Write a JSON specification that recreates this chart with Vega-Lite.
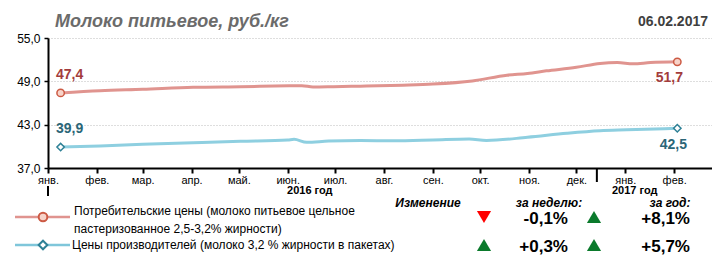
{
  "$schema": "https://vega.github.io/schema/vega-lite/v6.json",
  "width": 664,
  "height": 130,
  "autosize": {"type": "none"},
  "padding": {"left": 48, "top": 38, "right": 0, "bottom": 88},
  "background": "white",
  "config": {
    "view": {"stroke": null},
    "font": "Liberation Sans",
    "locale": {
      "number": {"decimal": ",", "thousands": " ", "grouping": [3], "currency": ["", " руб."], "minus": "-"},
      "time": {
        "dateTime": "%A, %e %B %Y г. %X",
        "date": "%d.%m.%Y",
        "time": "%H:%M:%S",
        "periods": ["AM", "PM"],
        "days": ["воскресенье", "понедельник", "вторник", "среда", "четверг", "пятница", "суббота"],
        "shortDays": ["вс", "пн", "вт", "ср", "чт", "пт", "сб"],
        "months": ["январь", "февраль", "март", "апрель", "май", "июнь", "июль", "август", "сентябрь", "октябрь", "ноябрь", "декабрь"],
        "shortMonths": ["янв.", "фев.", "мар.", "апр.", "май.", "июн.", "июл.", "авг.", "сен.", "окт.", "ноя.", "дек."]
      }
    }
  },
  "datasets": {
    "prices": [
      {"s": "s1", "date": "2016-01-09", "v": 47.4},
      {"s": "s1", "date": "2016-02-03", "v": 47.7},
      {"s": "s1", "date": "2016-03-01", "v": 47.9},
      {"s": "s1", "date": "2016-04-02", "v": 48.17},
      {"s": "s1", "date": "2016-05-02", "v": 48.26},
      {"s": "s1", "date": "2016-06-02", "v": 48.38},
      {"s": "s1", "date": "2016-06-10", "v": 48.4},
      {"s": "s1", "date": "2016-06-17", "v": 48.22},
      {"s": "s1", "date": "2016-06-30", "v": 48.26},
      {"s": "s1", "date": "2016-07-17", "v": 48.33},
      {"s": "s1", "date": "2016-08-13", "v": 48.47},
      {"s": "s1", "date": "2016-09-01", "v": 48.62},
      {"s": "s1", "date": "2016-09-26", "v": 49.05},
      {"s": "s1", "date": "2016-10-18", "v": 49.85},
      {"s": "s1", "date": "2016-10-31", "v": 50.1},
      {"s": "s1", "date": "2016-11-12", "v": 50.45},
      {"s": "s1", "date": "2016-12-01", "v": 50.94},
      {"s": "s1", "date": "2016-12-16", "v": 51.48},
      {"s": "s1", "date": "2016-12-27", "v": 51.6},
      {"s": "s1", "date": "2017-01-06", "v": 51.42},
      {"s": "s1", "date": "2017-01-17", "v": 51.6},
      {"s": "s1", "date": "2017-02-03", "v": 51.7},
      {"s": "s2", "date": "2016-01-09", "v": 39.9},
      {"s": "s2", "date": "2016-02-03", "v": 40.05},
      {"s": "s2", "date": "2016-03-01", "v": 40.28},
      {"s": "s2", "date": "2016-04-02", "v": 40.5},
      {"s": "s2", "date": "2016-05-02", "v": 40.7},
      {"s": "s2", "date": "2016-06-01", "v": 40.88},
      {"s": "s2", "date": "2016-06-05", "v": 40.97},
      {"s": "s2", "date": "2016-06-13", "v": 40.55},
      {"s": "s2", "date": "2016-06-27", "v": 40.74},
      {"s": "s2", "date": "2016-07-17", "v": 40.82},
      {"s": "s2", "date": "2016-08-07", "v": 40.76},
      {"s": "s2", "date": "2016-09-01", "v": 40.88},
      {"s": "s2", "date": "2016-09-24", "v": 41.02},
      {"s": "s2", "date": "2016-10-05", "v": 40.82},
      {"s": "s2", "date": "2016-10-31", "v": 41.25},
      {"s": "s2", "date": "2016-11-25", "v": 41.8},
      {"s": "s2", "date": "2016-12-16", "v": 42.15},
      {"s": "s2", "date": "2017-01-02", "v": 42.28},
      {"s": "s2", "date": "2017-02-03", "v": 42.5}
    ],
    "table": [
      {"s": "s1", "label": "Потребительские цены (молоко питьевое цельное\nпастеризованное 2,5-3,2% жирности)", "w": -0.001, "yr": 0.081},
      {"s": "s2", "label": "Цены производителей (молоко 3,2 % жирности в пакетах)", "w": 0.003, "yr": 0.057}
    ]
  },
  "layer": [
    {
      "data": {"name": "prices"},
      "layer": [
        {
          "mark": {"type": "line", "interpolate": "monotone", "strokeWidth": 3},
          "encoding": {
            "x": {
              "field": "date", "type": "temporal",
              "scale": {"type": "utc", "domain": [{"year": 2016, "month": 1, "date": 1, "utc": true}, {"year": 2017, "month": 2, "date": 25, "utc": true}], "nice": false},
              "axis": {"title": null, "format": "%b", "tickCount": {"interval": "month", "step": 1}, "labelFlush": false, "labelOverlap": false, "domainColor": "#000", "domainWidth": 2, "tickColor": "#000", "tickWidth": 2, "tickSize": 5, "labelFontSize": 11, "labelColor": "#000", "labelPadding": 1, "grid": false}
            },
            "y": {
              "field": "v", "type": "quantitative",
              "scale": {"domain": [37, 55], "nice": false, "zero": false},
              "axis": {"title": null, "values": [37, 43, 49, 55], "format": ".1f", "domainColor": "#000", "domainWidth": 2, "tickColor": "#000", "tickWidth": 1.5, "tickSize": 4, "labelFontSize": 12, "labelColor": "#000", "labelPadding": 4, "grid": true, "gridColor": "#bdbdbd", "gridDash": [1, 2], "gridWidth": 1}
            },
            "color": {"field": "s", "type": "nominal", "scale": {"domain": ["s1", "s2"], "range": ["#e0948f", "#8ecfe0"]}, "legend": null}
          }
        },
        {
          "transform": [{"filter": "datum.s == 's1' && (time(datum.date) == time(toDate('2016-01-09')) || time(datum.date) == time(toDate('2017-02-03')))"}],
          "mark": {"type": "point", "shape": "circle", "filled": true, "fill": "#f7d3c9", "stroke": "#cc5a44", "strokeWidth": 1.5, "size": 55, "opacity": 1},
          "encoding": {"x": {"field": "date", "type": "temporal"}, "y": {"field": "v", "type": "quantitative"}}
        },
        {
          "transform": [{"filter": "datum.s == 's2' && (time(datum.date) == time(toDate('2016-01-09')) || time(datum.date) == time(toDate('2017-02-03')))"}],
          "mark": {"type": "point", "shape": "diamond", "filled": true, "fill": "#ffffff", "stroke": "#2e8196", "strokeWidth": 1.5, "size": 55, "opacity": 1},
          "encoding": {"x": {"field": "date", "type": "temporal"}, "y": {"field": "v", "type": "quantitative"}}
        },
        {
          "transform": [{"filter": "time(datum.date) == time(toDate('2016-01-09'))"}],
          "mark": {"type": "text", "dx": 9, "dy": -18, "align": "center", "baseline": "middle", "fontSize": 14, "fontWeight": "bold"},
          "encoding": {
            "x": {"field": "date", "type": "temporal"}, "y": {"field": "v", "type": "quantitative"},
            "text": {"field": "v", "type": "quantitative", "format": ".1f"},
            "color": {"condition": {"test": "datum.s == 's1'", "value": "#a33c3c"}, "value": "#2b6677"}
          }
        },
        {
          "transform": [{"filter": "time(datum.date) == time(toDate('2017-02-03')) && datum.s == 's1'"}],
          "mark": {"type": "text", "dx": -8, "dy": 16, "align": "center", "baseline": "middle", "fontSize": 14, "fontWeight": "bold", "color": "#a33c3c"},
          "encoding": {
            "x": {"field": "date", "type": "temporal"}, "y": {"field": "v", "type": "quantitative"},
            "text": {"field": "v", "type": "quantitative", "format": ".1f"}
          }
        },
        {
          "transform": [{"filter": "time(datum.date) == time(toDate('2017-02-03')) && datum.s == 's2'"}],
          "mark": {"type": "text", "dx": -4, "dy": 17, "align": "center", "baseline": "middle", "fontSize": 14, "fontWeight": "bold", "color": "#2b6677"},
          "encoding": {
            "x": {"field": "date", "type": "temporal"}, "y": {"field": "v", "type": "quantitative"},
            "text": {"field": "v", "type": "quantitative", "format": ".1f"}
          }
        },
        {
          "data": {"values": [{"t": "Молоко питьевое, руб./кг"}]},
          "mark": {"type": "text", "align": "left", "baseline": "alphabetic", "dx": 7, "dy": -11, "fontSize": 18, "fontWeight": "bold", "fontStyle": "italic", "color": "#6b6b6b"},
          "encoding": {"x": {"value": 0}, "y": {"value": 0}, "text": {"field": "t"}}
        },
        {
          "data": {"values": [{"t": "06.02.2017"}]},
          "mark": {"type": "text", "align": "right", "baseline": "middle", "dx": -4, "dy": -16, "fontSize": 14, "fontWeight": "bold", "color": "#3f3f3f"},
          "encoding": {"x": {"value": "width"}, "y": {"value": 0}, "text": {"field": "t"}}
        },
        {
          "data": {"values": [{"t": "2016 год"}]},
          "mark": {"type": "text", "align": "center", "baseline": "middle", "dy": 23, "fontSize": 11, "fontWeight": "bold", "color": "#000"},
          "encoding": {"x": {"datum": {"year": 2016, "month": 6, "date": 15, "utc": true}, "type": "temporal"}, "y": {"value": "height"}, "text": {"field": "t"}}
        },
        {
          "data": {"values": [{"t": "2017 год"}]},
          "mark": {"type": "text", "align": "center", "baseline": "middle", "dy": 23, "fontSize": 11, "fontWeight": "bold", "color": "#000"},
          "encoding": {"x": {"datum": {"year": 2017, "month": 1, "date": 7, "utc": true}, "type": "temporal"}, "y": {"value": "height"}, "text": {"field": "t"}}
        },
        {
          "data": {"values": [{"t": "a"}]},
          "mark": {"type": "rule", "color": "#000", "strokeWidth": 2, "yOffset": 18, "y2Offset": 28},
          "encoding": {"x": {"datum": {"year": 2016, "month": 1, "date": 1, "utc": true}, "type": "temporal"}, "y": {"value": "height"}, "y2": {"value": "height"}}
        },
        {
          "data": {"values": [{"t": "b"}]},
          "mark": {"type": "rule", "color": "#000", "strokeWidth": 2, "yOffset": 0, "y2Offset": 14},
          "encoding": {"x": {"datum": {"year": 2016, "month": 12, "date": 14, "utc": true}, "type": "temporal"}, "y": {"value": "height"}, "y2": {"value": "height"}}
        }
      ]
    },
    {
      "layer": [
        {
          "data": {"name": "table"},
          "mark": {"type": "rule", "strokeWidth": 2.5},
          "encoding": {
            "x": {"datum": 15, "type": "quantitative", "scale": {"domain": [0, 712], "range": [-48, 664], "nice": false, "zero": false}, "axis": null},
            "x2": {"datum": 70},
            "y": {"field": "s", "type": "nominal", "scale": {"type": "point", "domain": ["s1", "s2"], "range": [179, 207], "padding": 0}, "axis": null},
            "color": {"field": "s", "type": "nominal", "scale": {"domain": ["s1", "s2"], "range": ["#e0948f", "#7fc6da"]}, "legend": null}
          }
        },
        {
          "data": {"name": "table"},
          "mark": {"type": "point", "filled": true, "size": 75, "strokeWidth": 2, "opacity": 1},
          "encoding": {
            "x": {"datum": 43, "type": "quantitative"},
            "y": {"field": "s", "type": "nominal"},
            "shape": {"field": "s", "type": "nominal", "scale": {"domain": ["s1", "s2"], "range": ["circle", "diamond"]}, "legend": null},
            "fill": {"field": "s", "type": "nominal", "scale": {"domain": ["s1", "s2"], "range": ["#f7d3c9", "#ffffff"]}, "legend": null},
            "stroke": {"field": "s", "type": "nominal", "scale": {"domain": ["s1", "s2"], "range": ["#cc5a44", "#2e8196"]}, "legend": null}
          }
        },
        {
          "data": {"name": "table"},
          "transform": [{"filter": "datum.s == 's1'"}],
          "mark": {"type": "text", "align": "left", "baseline": "middle", "lineBreak": "\n", "lineHeight": 18, "fontSize": 12, "dy": -6, "color": "#000"},
          "encoding": {
            "x": {"datum": 74, "type": "quantitative"},
            "y": {"field": "s", "type": "nominal"},
            "text": {"field": "label"}
          }
        },
        {
          "data": {"name": "table"},
          "transform": [{"filter": "datum.s == 's2'"}],
          "mark": {"type": "text", "align": "left", "baseline": "middle", "fontSize": 12, "dy": 0, "color": "#000"},
          "encoding": {
            "x": {"datum": 72, "type": "quantitative"},
            "y": {"field": "s", "type": "nominal"},
            "text": {"field": "label"}
          }
        },
        {
          "data": {"name": "table"},
          "mark": {"type": "point", "filled": true, "size": 200, "opacity": 1, "strokeWidth": 0},
          "encoding": {
            "x": {"datum": 484, "type": "quantitative"},
            "y": {"field": "s", "type": "nominal"},
            "shape": {"condition": {"test": "datum.w < 0", "value": "triangle-down"}, "value": "triangle-up"},
            "color": {"condition": {"test": "datum.w < 0", "value": "#ff0000"}, "value": "#0b7a2c"}
          }
        },
        {
          "data": {"name": "table"},
          "mark": {"type": "point", "filled": true, "size": 200, "opacity": 1, "strokeWidth": 0},
          "encoding": {
            "x": {"datum": 594, "type": "quantitative"},
            "y": {"field": "s", "type": "nominal"},
            "shape": {"condition": {"test": "datum.yr < 0", "value": "triangle-down"}, "value": "triangle-up"},
            "color": {"condition": {"test": "datum.yr < 0", "value": "#ff0000"}, "value": "#0b7a2c"}
          }
        },
        {
          "data": {"name": "table"},
          "mark": {"type": "text", "align": "right", "baseline": "middle", "fontSize": 17, "fontWeight": "bold", "dy": 2, "color": "#000"},
          "encoding": {
            "x": {"datum": 568, "type": "quantitative"},
            "y": {"field": "s", "type": "nominal"},
            "text": {"field": "w", "type": "quantitative", "format": "+.1%"}
          }
        },
        {
          "data": {"name": "table"},
          "mark": {"type": "text", "align": "right", "baseline": "middle", "fontSize": 17, "fontWeight": "bold", "dy": 2, "color": "#000"},
          "encoding": {
            "x": {"datum": 690, "type": "quantitative"},
            "y": {"field": "s", "type": "nominal"},
            "text": {"field": "yr", "type": "quantitative", "format": "+.1%"}
          }
        },
        {
          "data": {"values": [{"t": "Изменение"}]},
          "mark": {"type": "text", "align": "center", "baseline": "middle", "fontSize": 12, "fontWeight": "bold", "fontStyle": "italic", "dy": -14, "color": "#000"},
          "encoding": {"x": {"datum": 428, "type": "quantitative"}, "y": {"datum": "s1", "type": "nominal"}, "text": {"field": "t"}}
        },
        {
          "data": {"values": [{"t": "за неделю:"}]},
          "mark": {"type": "text", "align": "center", "baseline": "middle", "fontSize": 12, "fontWeight": "bold", "fontStyle": "italic", "dy": -14, "color": "#000"},
          "encoding": {"x": {"datum": 549, "type": "quantitative"}, "y": {"datum": "s1", "type": "nominal"}, "text": {"field": "t"}}
        },
        {
          "data": {"values": [{"t": "за год:"}]},
          "mark": {"type": "text", "align": "center", "baseline": "middle", "fontSize": 12, "fontWeight": "bold", "fontStyle": "italic", "dy": -14.5, "color": "#000"},
          "encoding": {"x": {"datum": 670, "type": "quantitative"}, "y": {"datum": "s1", "type": "nominal"}, "text": {"field": "t"}}
        }
      ]
    }
  ],
  "resolve": {"scale": {"x": "independent", "y": "independent", "color": "independent", "shape": "independent", "fill": "independent", "stroke": "independent"}}
}
